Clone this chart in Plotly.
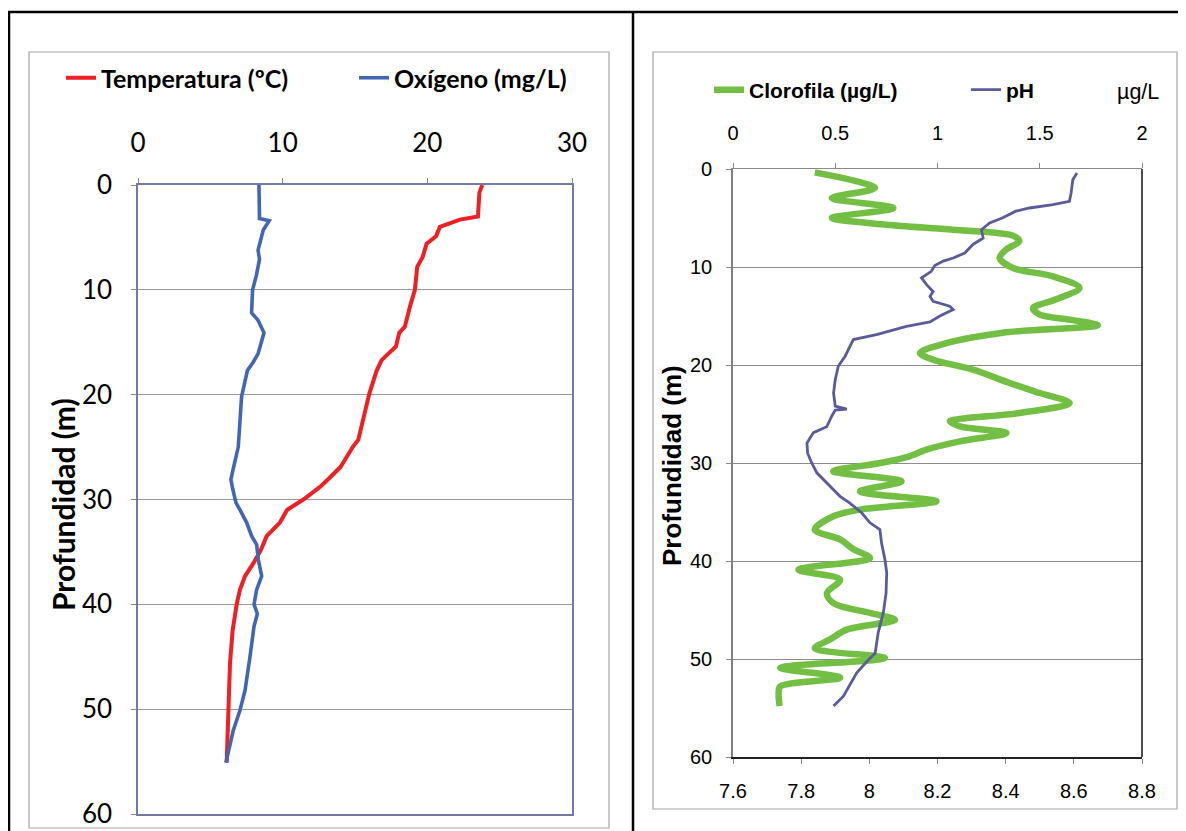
import plotly.graph_objects as go

# page offset of the plot div (browser body margin) and figure size
OX, OY = 8, 8
FW, FH = 1178, 823

# ---------------- data ----------------
temp_depth = [0, 0.7, 3.0, 3.3, 4.0, 4.9, 5.6, 6.9, 7.8, 10.0, 11.6, 13.5, 14.1, 15.4,
              16.7, 17.7, 19.9, 24.3, 25.0, 26.9, 27.9, 28.8, 30.0, 31.0, 32.2, 33.5,
              34.8, 36.1, 37.3, 38.6, 40.0, 42.5, 45.6, 49.5, 55.1]
temp_vals = [23.8, 23.6, 23.5, 22.25, 20.87, 20.6, 19.95, 19.67, 19.3, 19.14, 18.8, 18.45,
             18.06, 17.83, 16.84, 16.5, 15.99, 15.23, 14.84, 14.0, 13.27, 12.58, 11.43,
             10.3, 9.81, 8.89, 8.5, 7.97, 7.4, 7.05, 6.82, 6.54, 6.36, 6.24, 6.13]

oxy_depth = [0, 1.5, 3.2, 3.4, 4.3, 6.2, 7.1, 8.7, 10.0, 12.2, 12.9, 14.1, 16.1, 16.9,
             17.7, 20.2, 25.0, 26.6, 28.1, 29.0, 30.3, 31.0, 32.2, 33.5, 34.3, 35.75,
             37.3, 38.6, 40.0, 40.9, 42.1, 45.0, 48.2, 50.1, 52.0, 55.1]
oxy_vals = [8.36, 8.4, 8.4, 9.07, 8.66, 8.3, 8.4, 8.17, 7.92, 7.85, 8.3, 8.71, 8.3, 7.96,
            7.56, 7.16, 6.93, 6.66, 6.42, 6.55, 6.77, 7.05, 7.51, 7.86, 8.2, 8.32, 8.55,
            8.2, 8.02, 8.25, 8.02, 7.74, 7.4, 7.05, 6.59, 6.08]

chl_depth = [0.34, 1.94, 2.96, 3.98, 5.0, 5.68, 6.19, 6.8, 7.38, 8.2, 9.08, 10.1, 10.95,
             12.14, 13.3, 14.2, 14.86, 15.37, 15.95, 16.7, 17.76, 18.78, 19.46, 20.48,
             21.84, 22.86, 23.88, 24.9, 25.75, 26.26, 26.94, 27.8, 28.64, 29.4, 30.0,
             30.85, 31.87, 32.9, 33.9, 34.76, 35.44, 36.8, 37.8, 38.8, 39.7, 40.9, 41.9,
             43.3, 44.3, 45.3, 46.0, 47.0, 48.0, 48.9, 49.9, 50.9, 51.9, 52.8, 53.5, 54.8]
chl_vals = [0.40, 0.694, 0.483, 0.784, 0.483, 0.751, 1.076, 1.369, 1.40, 1.337, 1.304,
            1.369, 1.564, 1.694, 1.58, 1.467, 1.5, 1.646, 1.784, 1.32, 1.044, 0.914,
            0.979, 1.174, 1.353, 1.5, 1.646, 1.40, 1.06, 1.109, 1.337, 1.109, 0.946,
            0.85, 0.72, 0.49, 0.824, 0.621, 0.995, 0.621, 0.491, 0.40, 0.524, 0.589,
            0.67, 0.32, 0.524, 0.459, 0.491, 0.67, 0.792, 0.556, 0.475, 0.40, 0.743,
            0.231, 0.524, 0.231, 0.223, 0.228]

ph_depth = [0.4, 1.1, 2.45, 3.3, 3.64, 3.98, 4.3, 5.0, 5.5, 6.2, 7.04, 7.7, 8.57, 9.08,
            9.4, 9.86, 10.44, 11.1, 11.8, 12.5, 13.0, 13.5, 14.0, 14.35, 15.0, 15.6,
            16.05, 16.4, 16.9, 17.4, 18.1, 19.1, 20.1, 21.5, 22.86, 24.2, 24.5, 24.6,
            25.2, 26.3, 26.9, 27.96, 29.0, 30.0, 31.0, 32.4, 33.4, 34.1, 35.1, 36.1,
            36.8, 38.2, 39.9, 41.2, 43.3, 45.3, 47.3, 49.4, 50.1, 51.4, 52.8, 53.8, 54.8]
ph_vals = [8.609, 8.597, 8.592, 8.587, 8.539, 8.47, 8.43, 8.39, 8.353, 8.329, 8.334,
           8.304, 8.28, 8.246, 8.217, 8.192, 8.182, 8.153, 8.168, 8.187, 8.178, 8.187,
           8.236, 8.246, 8.207, 8.178, 8.109, 8.07, 8.021, 7.953, 7.943, 7.929, 7.909,
           7.9, 7.895, 7.9, 7.934, 7.9, 7.89, 7.875, 7.836, 7.817, 7.819, 7.831, 7.846,
           7.885, 7.914, 7.943, 7.978, 8.002, 8.031, 8.036, 8.046, 8.051, 8.049, 8.041,
           8.026, 8.017, 7.997, 7.963, 7.939, 7.924, 7.895]

left_x_ticks = [0, 10, 20, 30]
depth_ticks = [0, 10, 20, 30, 40, 50, 60]
chl_ticks = [0, 0.5, 1, 1.5, 2]
chl_ticktext = ["0", "0.5", "1", "1.5", "2"]
ph_ticks = [7.6, 7.8, 8.0, 8.2, 8.4, 8.6, 8.8]
ph_ticktext = ["7.6", "7.8", "8", "8.2", "8.4", "8.6", "8.8"]


def px(x):
    """page x pixel -> paper fraction"""
    return (x - OX) / FW


def py(y):
    """page y pixel -> paper fraction"""
    return 1 - (y - OY) / FH


LFONT = "Lato, Carlito, Calibri, sans-serif"
RFONT = "Liberation Sans, Arial, sans-serif"
LEFT_FRAME = "#7579a6"

fig = go.Figure()
fig.add_trace(go.Scatter(x=temp_vals, y=temp_depth, mode="lines", name="Temperatura (ºC)",
                         line=dict(color="#ee2024", width=4), xaxis="x", yaxis="y",
                         legend="legend"))
fig.add_trace(go.Scatter(x=oxy_vals, y=oxy_depth, mode="lines", name="Oxígeno (mg/L)",
                         line=dict(color="#4266b2", width=3.6), xaxis="x", yaxis="y",
                         legend="legend"))
fig.add_trace(go.Scatter(x=chl_vals, y=chl_depth, mode="lines", name="Clorofila (µg/L)",
                         line=dict(color="#72bf44", width=6.5, shape="spline", smoothing=0.9),
                         xaxis="x2", yaxis="y2", legend="legend2"))
fig.add_trace(go.Scatter(x=ph_vals, y=ph_depth, mode="lines", name="pH",
                         line=dict(color="#5b5b9b", width=2.8), xaxis="x3", yaxis="y2",
                         legend="legend3"))

legend_common = dict(orientation="h", xanchor="left", yanchor="middle",
                     bgcolor="rgba(0,0,0,0)", itemwidth=30, tracegroupgap=0)

fig.update_layout(
    width=FW, height=FH, autosize=False,
    margin=dict(l=0, r=0, t=0, b=0, pad=0),
    paper_bgcolor="white", plot_bgcolor="white",
    showlegend=True,
    xaxis=dict(domain=[px(138), px(572)], anchor="y", side="top", range=[0, 30],
               tickvals=left_x_ticks, showgrid=False, zeroline=False, automargin=False,
               ticks="outside", ticklen=5, tickcolor="#888888",
               showline=True, linecolor=LEFT_FRAME, linewidth=1.5, mirror=True,
               tickfont=dict(family=LFONT, size=26, color="black"),
               ticklabelstandoff=16),
    yaxis=dict(domain=[py(814), py(185)], anchor="x", range=[60, 0],
               tickvals=depth_ticks, showgrid=True, gridcolor="#999999", gridwidth=1,
               zeroline=False, automargin=False, ticks="outside", ticklen=5,
               tickcolor="#888888",
               showline=True, linecolor=LEFT_FRAME, linewidth=1.5, mirror=True,
               tickfont=dict(family=LFONT, size=26, color="black"),
               ticklabelstandoff=14),
    xaxis2=dict(domain=[px(733), px(1142)], anchor="y2", side="top", range=[0, 2],
                tickvals=chl_ticks, ticktext=chl_ticktext,
                showgrid=False, zeroline=False, automargin=False,
                ticks="outside", ticklen=5, tickcolor="#888888",
                showline=True, linecolor="#8a8a8a", linewidth=1.2,
                tickfont=dict(family=RFONT, size=20, color="black"),
                ticklabelstandoff=15),
    xaxis3=dict(overlaying="x2", anchor="y2", side="bottom", range=[7.6, 8.8],
                tickvals=ph_ticks, ticktext=ph_ticktext,
                showgrid=False, zeroline=False, automargin=False,
                ticks="outside", ticklen=5, tickcolor="#888888",
                showline=True, linecolor="#222222", linewidth=1.6,
                tickfont=dict(family=RFONT, size=20, color="black"),
                ticklabelstandoff=10),
    yaxis2=dict(domain=[py(757), py(169)], anchor="x2", range=[60, 0],
                tickvals=depth_ticks, showgrid=True, gridcolor="#8c8c8c", gridwidth=1,
                zeroline=False, automargin=False, ticks="outside", ticklen=5,
                tickcolor="#888888",
                showline=True, linecolor="#7f7f7f", linewidth=1.6,
                tickfont=dict(family=RFONT, size=20, color="black"),
                ticklabelstandoff=10),
    legend=dict(x=px(61), y=py(78), entrywidth=248, entrywidthmode="pixels",
                font=dict(family=LFONT, size=25, color="black", weight="bold"),
                **legend_common),
    legend2=dict(x=px(709), y=py(90),
                 font=dict(family=RFONT, size=21, color="black", weight="bold"),
                 **legend_common),
    legend3=dict(x=px(966), y=py(90),
                 font=dict(family=RFONT, size=21, color="black", weight="bold"),
                 **legend_common),
)

shapes = []
# table borders
for (x0, y0, x1, y1) in [(8, 12, 1186, 12), (9, 12, 9, 831), (633, 12, 633, 831)]:
    shapes.append(dict(type="line", xref="paper", yref="paper", x0=px(x0), y0=py(y0),
                       x1=px(x1), y1=py(y1), line=dict(color="black", width=2.5)))
# chart-area boxes
for (x0, y0, x1, y1) in [(29, 52, 609, 828), (653, 52, 1177, 809)]:
    shapes.append(dict(type="rect", xref="paper", yref="paper", x0=px(x0), y0=py(y1),
                       x1=px(x1), y1=py(y0), line=dict(color="#a6a6a6", width=1.2),
                       fillcolor="rgba(0,0,0,0)", layer="below"))
# right edge of the right plot area (dark)
shapes.append(dict(type="line", xref="x2 domain", yref="y2 domain", x0=1, x1=1, y0=0, y1=1,
                   line=dict(color="#222222", width=1.6)))
fig.update_layout(shapes=shapes)

fig.add_annotation(text="<b>Profundidad (m)</b>", xref="paper", yref="paper",
                   x=px(63), y=py(505), xanchor="center", yanchor="middle",
                   textangle=-90, showarrow=False,
                   font=dict(family=LFONT, size=30, color="black"))
fig.add_annotation(text="<b>Profundidad (m)</b>", xref="paper", yref="paper",
                   x=px(672), y=py(466), xanchor="center", yanchor="middle",
                   textangle=-90, showarrow=False,
                   font=dict(family=RFONT, size=26, color="black"))
fig.add_annotation(text="µg/L", xref="paper", yref="paper",
                   x=px(1138), y=py(92), xanchor="center", yanchor="middle",
                   showarrow=False,
                   font=dict(family=RFONT, size=21.5, color="black"))

fig.write_html("out.html")
